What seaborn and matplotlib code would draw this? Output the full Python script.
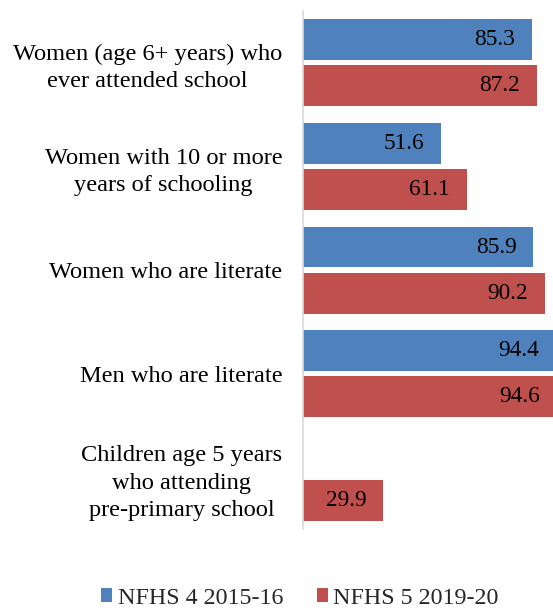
import matplotlib
matplotlib.use("Agg")
import matplotlib.pyplot as plt
from matplotlib.patches import Patch
import numpy as np
import pandas as pd
import seaborn as sns

# Indicator labels (multi-line, as shown on the axis)
categories = [
    "Women (age 6+ years) who\never attended school",
    "Women with 10 or more\nyears of schooling",
    "Women who are literate",
    "Men who are literate",
    "Children age 5 years\nwho attending\npre-primary school",
]
series_names = ["NFHS 4 2015-16", "NFHS 5 2019-20"]
nfhs4 = [85.3, 51.6, 85.9, 94.4, np.nan]
nfhs5 = [87.2, 61.1, 90.2, 94.6, 29.9]
colors = ["#4F81BD", "#C0504D"]

df = pd.DataFrame({
    "indicator": categories * 2,
    "survey": [series_names[0]] * len(categories) + [series_names[1]] * len(categories),
    "value": nfhs4 + nfhs5,
})

sns.set_theme(style="white")
plt.rcParams["font.family"] = ["Liberation Serif", "DejaVu Serif"]

fig = plt.figure(figsize=(5.53, 6.10), dpi=100)
ax = fig.add_axes([0.5479, 0.1321, 0.4521, 0.8505])

sns.barplot(
    data=df, y="indicator", x="value", hue="survey",
    order=categories, hue_order=series_names,
    palette=colors, saturation=1, orient="h", width=0.887, gap=0.11,
    linewidth=0, errorbar=None, legend=False, ax=ax,
)

ax.set_xlim(0, 93.3)
ax.set_ylim(4.5, -0.5)
ax.set_xlabel("")
ax.set_ylabel("")
ax.set_xticks([])

for side in ["top", "right", "bottom"]:
    ax.spines[side].set_visible(False)
ax.spines["left"].set_color("#D9D9D9")
ax.spines["left"].set_linewidth(1.2)

ax.tick_params(axis="y", length=0, pad=15, labelsize=17.6, labelcolor="black")
for lbl in ax.get_yticklabels():
    lbl.set_multialignment("center")
    lbl.set_linespacing(1.4)

# Value labels placed inside the end of each bar
for container, vals in zip(ax.containers, [nfhs4, nfhs5]):
    for bar, v in zip(container, vals):
        if np.isnan(v):
            continue
        y = bar.get_y() + bar.get_height() / 2
        ax.annotate(f"{v:.1f}", xy=(v, y), xytext=(-12, 0),
                    textcoords="offset points", ha="right", va="center",
                    fontsize=16.8, color="black", annotation_clip=False)

handles = [Patch(facecolor=c, edgecolor="none") for c in colors]
fig.legend(handles, series_names, loc="center", ncol=2,
           bbox_to_anchor=(300 / 553, 1 - 598 / 610), frameon=False,
           fontsize=17.3, handlelength=0.47, handleheight=0.47,
           handletextpad=0.22, columnspacing=1.4)

fig.savefig("out.png", dpi=100)
